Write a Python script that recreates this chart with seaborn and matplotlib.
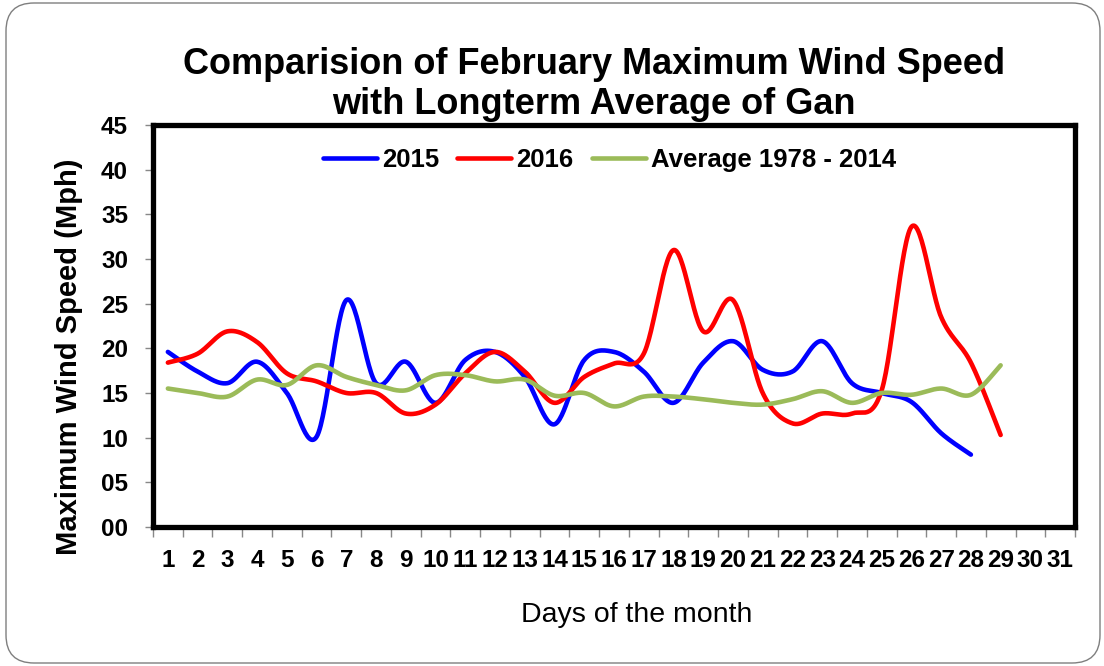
import numpy as np
import pandas as pd
import seaborn as sns
import matplotlib.pyplot as plt
from matplotlib.patches import FancyBboxPatch
from matplotlib.ticker import FixedLocator, FormatStrFormatter

# values (mph), one per day
days = list(range(1, 32))
wind_2015 = [19.6, 17.4, 16.1, 18.5, 15.0, 10.1, 25.4, 16.1, 18.5, 13.9,
             18.7, 19.6, 16.8, 11.5, 18.7, 19.6, 17.4, 13.9, 18.4, 20.8,
             17.6, 17.4, 20.8, 16.1, 15.0, 14.0, 10.5, 8.1]
wind_2016 = [18.4, 19.4, 21.9, 20.7, 17.2, 16.3, 15.0, 15.0, 12.7, 13.7,
             17.2, 19.6, 17.4, 13.9, 16.8, 18.3, 19.4, 31.0, 21.9, 25.4,
             15.0, 11.6, 12.7, 12.7, 15.3, 33.6, 23.5, 18.4, 10.3]
wind_avg = [15.5, 15.0, 14.6, 16.5, 15.9, 18.1, 16.8, 15.9, 15.3, 17.0,
            17.0, 16.3, 16.5, 14.7, 15.0, 13.5, 14.6, 14.6, 14.3, 13.9,
            13.7, 14.3, 15.2, 13.9, 15.0, 14.8, 15.5, 14.8, 18.1]
series_names = ["2015", "2016", "Average 1978 - 2014"]
series_colors = ["#0000FF", "#FF0000", "#9BBB59"]


def smooth(x, y, n=30):
    # Excel-style smoothed line: bezier segments with catmull-rom handles
    x = np.asarray(x, float)
    y = np.asarray(y, float)
    px = np.concatenate([[x[0]], x, [x[-1]]])
    py = np.concatenate([[y[0]], y, [y[-1]]])
    t = np.linspace(0, 1, n)[:, None]
    xs, ys = [], []
    for i in range(1, len(px) - 2):
        p0 = np.array([px[i], py[i]])
        p3 = np.array([px[i + 1], py[i + 1]])
        c1 = p0 + (p3 - np.array([px[i - 1], py[i - 1]])) / 6
        c2 = p3 - (np.array([px[i + 2], py[i + 2]]) - p0) / 6
        pts = ((1 - t) ** 3) * p0 + 3 * ((1 - t) ** 2) * t * c1 \
            + 3 * (1 - t) * t ** 2 * c2 + t ** 3 * p3
        xs.append(pts[:, 0])
        ys.append(pts[:, 1])
    return np.concatenate(xs), np.concatenate(ys)


sns.set_style("white")
plt.rcParams["font.family"] = ["Liberation Sans", "DejaVu Sans"]
plt.rcParams["text.color"] = "black"
plt.rcParams["axes.labelcolor"] = "black"

fig = plt.figure(figsize=(11.04, 6.66), dpi=100)
ax = fig.add_axes([153 / 1104, 1 - 527 / 666, 922 / 1104, 402 / 666])

for name, vals, col in zip(series_names, [wind_2015, wind_2016, wind_avg], series_colors):
    sx, sy = smooth(days[:len(vals)], vals)
    sns.lineplot(x=sx, y=sy, ax=ax, color=col, linewidth=3.3, label=name,
                 sort=False, estimator=None, solid_capstyle="round")

ax.set_xlim(0.5, 31.5)
ax.set_ylim(0, 45)
ax.yaxis.set_major_locator(FixedLocator(range(0, 46, 5)))
ax.yaxis.set_major_formatter(FormatStrFormatter("%02d"))
ax.set_xticks(days)
ax.set_xticklabels([str(d) for d in days])
ax.xaxis.set_minor_locator(FixedLocator(np.arange(0.5, 32, 1)))
ax.tick_params(axis="x", which="major", length=0, pad=16, labelcolor="black")
ax.tick_params(axis="x", which="minor", length=7, width=1, color="#888888",
               direction="out", bottom=True)
ax.tick_params(axis="y", length=6, width=1, color="#888888", direction="out",
               left=True, pad=12, labelcolor="black")
for lab in ax.get_xticklabels() + ax.get_yticklabels():
    lab.set_fontsize(17.5)
    lab.set_fontweight("bold")

for sp in ax.spines.values():
    sp.set_color("black")
    sp.set_linewidth(3.8)

ax.set_ylabel("Maximum Wind Speed (Mph)", fontsize=21, fontweight="bold")
ax.yaxis.set_label_coords(-0.076, 0.423)
ax.set_xlabel("Days of the month", fontsize=20.5)
ax.xaxis.set_label_coords(0.525, -0.187)

ax.legend(loc="center", bbox_to_anchor=(0.495, 0.913), ncol=3, frameon=False,
          prop={"size": 18.5, "weight": "bold"}, handlelength=2.1,
          handletextpad=0.2, columnspacing=0.7)

fig.text(594 / 1104, 1 - 74 / 666, "Comparision of February Maximum Wind Speed",
         ha="center", va="baseline", fontsize=26, fontweight="bold")
fig.text(594 / 1104, 1 - 114 / 666, "with Longterm Average of Gan",
         ha="center", va="baseline", fontsize=26, fontweight="bold")

border = FancyBboxPatch((0.06, 0.03), 10.94, 6.6,
                        boxstyle="round,pad=0,rounding_size=0.28",
                        transform=fig.dpi_scale_trans, facecolor="none",
                        edgecolor="#7f7f7f", linewidth=1.0)
fig.patches.append(border)

fig.savefig("out.png", dpi=100)
